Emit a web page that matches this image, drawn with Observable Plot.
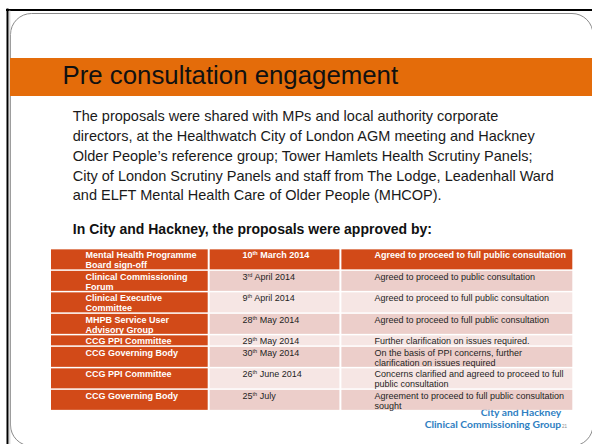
<!DOCTYPE html>
<html><head><meta charset="utf-8">
<script src="https://cdn.jsdelivr.net/npm/d3@7"></script>
<script src="https://cdn.jsdelivr.net/npm/@observablehq/plot@0.6"></script>
<style>html,body{margin:0;padding:0;background:#fff;overflow:hidden}</style>
</head><body><div id="chart"></div>
<script>
// ---- content ----
const titleText = "Pre consultation engagement";
const paragraphLines = [
  "The proposals were shared with MPs and local authority corporate",
  "directors, at the Healthwatch City of London AGM meeting and Hackney",
  "Older People\u2019s reference group; Tower Hamlets Health Scrutiny Panels;",
  "City of London Scrutiny Panels and staff from The Lodge, Leadenhall Ward",
  "and ELFT Mental Health Care of Older People (MHCOP)."
];
const tableIntro = "In City and Hackney, the proposals were approved by:";
const bodies = [
  "Mental Health Programme\nBoard sign-off",
  "Clinical Commissioning\nForum",
  "Clinical Executive\nCommittee",
  "MHPB Service User\nAdvisory Group",
  "CCG PPI Committee",
  "CCG Governing Body",
  "CCG PPI Committee",
  "CCG Governing Body"
];
const dates = [
  "10th March 2014",
  "3rd April 2014",
  "9th April 2014",
  "28th May 2014",
  "29th May 2014",
  "30th May 2014",
  "26th June 2014",
  "25th July"
];
const outcomes = [
  "Agreed to proceed to full public consultation",
  "Agreed to proceed to public consultation",
  "Agreed to proceed to full public consultation",
  "Agreed to proceed to full public consultation",
  "Further clarification on issues required.",
  "On the basis of PPI concerns, further\nclarification on issues required",
  "Concerns clarified and agreed to proceed to full\npublic consultation",
  "Agreement to proceed to full public consultation\nsought"
];
const logoLines = ["City and Hackney", "Clinical Commissioning Group"];
const pageNumber = "21";

// ---- layout & style (not data) ----
const W = 592, H = 444;
const orange = "#E46C0A", cellOrange = "#D24A18", pinkDark = "#ECCECA", pinkLight = "#F6E6E4";
const cols = [{x1: 51, x2: 207.7, tx: 85}, {x1: 209.7, x2: 339.4, tx: 242}, {x1: 341.4, x2: 572.3, tx: 374}];
const tableTop = 248.6, lineStep = 10, rowGap = 1.5;
const cellFont = 9, cellLH = 1.1;

const nLines = s => s.split("\n").length;
let cursor = tableTop;
const rows = bodies.map((b, i) => {
  const n = Math.max(nLines(b), nLines(dates[i]), nLines(outcomes[i]));
  const h = n * lineStep + rowGap;
  const r = {i, top: cursor + rowGap / 2, bottom: cursor + h - rowGap / 2, body: b, date: dates[i], outcome: outcomes[i]};
  cursor += h;
  return r;
});
const cells = rows.flatMap(r => cols.map((c, j) => ({
  x1: c.x1, x2: c.x2, y1: r.top, y2: r.bottom,
  fill: (j === 0 || r.i === 0) ? cellOrange : (r.i % 2 ? pinkDark : pinkLight)
})));
const textY = r => r.top + 1.3;
const head = rows.filter(r => r.i === 0), rest = rows.filter(r => r.i > 0);
const fam = "Liberation Sans, Arial, Helvetica, sans-serif";

const svg = Plot.plot({
  width: W, height: H, margin: 0,
  x: {type: "linear", domain: [0, W], range: [0, W], axis: null},
  y: {type: "linear", domain: [0, H], range: [0, H], axis: null},
  style: {fontFamily: fam, background: "#fff"},
  marks: [
    // slide frame
    Plot.rect([0], {x1: 10.5, x2: 593, y1: 13.5, y2: 446, rx: 21, fill: "#fff", stroke: "#8a8a8a", strokeWidth: 1}),
    Plot.ruleY([9.5], {x1: 6, x2: W, stroke: "#000", strokeWidth: 2}),
    Plot.ruleX([7], {y1: 8.5, y2: H, stroke: "#000", strokeWidth: 2}),
    Plot.ruleX([9.3], {y1: 10.5, y2: H, stroke: "#c8c8c8", strokeWidth: 1}),
    // title band
    Plot.rect([0], {x1: 10, x2: W, y1: 58, y2: 96, fill: orange}),
    Plot.text([titleText], {x: 62, y: 83.3, text: d => d, textAnchor: "start", lineAnchor: "bottom", fontSize: 25.8, fill: "#111"}),
    // paragraph
    Plot.text(paragraphLines, {x: 72.3, y: (d, i) => 120.6 + i * 19.8, text: d => d, textAnchor: "start", lineAnchor: "bottom", fontSize: 14.5, fill: "#1a1a1a"}),
    Plot.text([tableIntro], {x: 72.3, y: 233.3, text: d => d, textAnchor: "start", lineAnchor: "bottom", fontSize: 14, fontWeight: "bold", fill: "#111"}),
    // logo (partly under the table)
    Plot.text([logoLines[0]], {x: 560.7, y: 415, text: d => d, textAnchor: "end", lineAnchor: "bottom", fontSize: 10.3, fontWeight: "bold", fontFamily: "Lato, sans-serif", fill: "#2F80C2"}),
    Plot.text([logoLines[1]], {x: 560.7, y: 427.3, text: d => d, textAnchor: "end", lineAnchor: "bottom", fontSize: 10.3, fontWeight: "bold", fontFamily: "Lato, sans-serif", fill: "#2F80C2"}),
    Plot.text([pageNumber], {x: 561.5, y: 427.3, text: d => d, textAnchor: "start", lineAnchor: "bottom", fontSize: 4.5, fill: "#8a8a8a"}),
    // table
    Plot.rect(cells, {x1: "x1", x2: "x2", y1: "y1", y2: "y2", fill: "fill"}),
    Plot.text(rows, {x: cols[0].tx, y: textY, text: "body", textAnchor: "start", lineAnchor: "top", lineHeight: cellLH, fontSize: cellFont, fontWeight: "bold", fill: "#fff"}),
    Plot.text(head, {x: cols[1].tx, y: textY, text: "date", textAnchor: "start", lineAnchor: "top", lineHeight: cellLH, fontSize: cellFont, fontWeight: "bold", fill: "#fff"}),
    Plot.text(head, {x: cols[2].tx, y: textY, text: "outcome", textAnchor: "start", lineAnchor: "top", lineHeight: cellLH, fontSize: cellFont, fontWeight: "bold", fill: "#fff"}),
    Plot.text(rest, {x: cols[1].tx, y: textY, text: "date", textAnchor: "start", lineAnchor: "top", lineHeight: cellLH, fontSize: cellFont, fill: "#1e1e1e"}),
    Plot.text(rest, {x: cols[2].tx, y: textY, text: "outcome", textAnchor: "start", lineAnchor: "top", lineHeight: cellLH, fontSize: cellFont, fill: "#1e1e1e"})
  ]
});

// ordinal suffixes as superscripts
d3.select(svg).selectAll("text").each(function () {
  if (this.children.length) return;
  const m = /^(\d+)(st|nd|rd|th)(\s.*)$/.exec(this.textContent);
  if (!m) return;
  this.textContent = "";
  const t = d3.select(this);
  t.append("tspan").text(m[1]);
  t.append("tspan").attr("font-size", "0.62em").attr("dy", -3).text(m[2]);
  t.append("tspan").attr("dy", 3).text(m[3]);
});

document.getElementById("chart").append(svg);
</script>
</body></html>
